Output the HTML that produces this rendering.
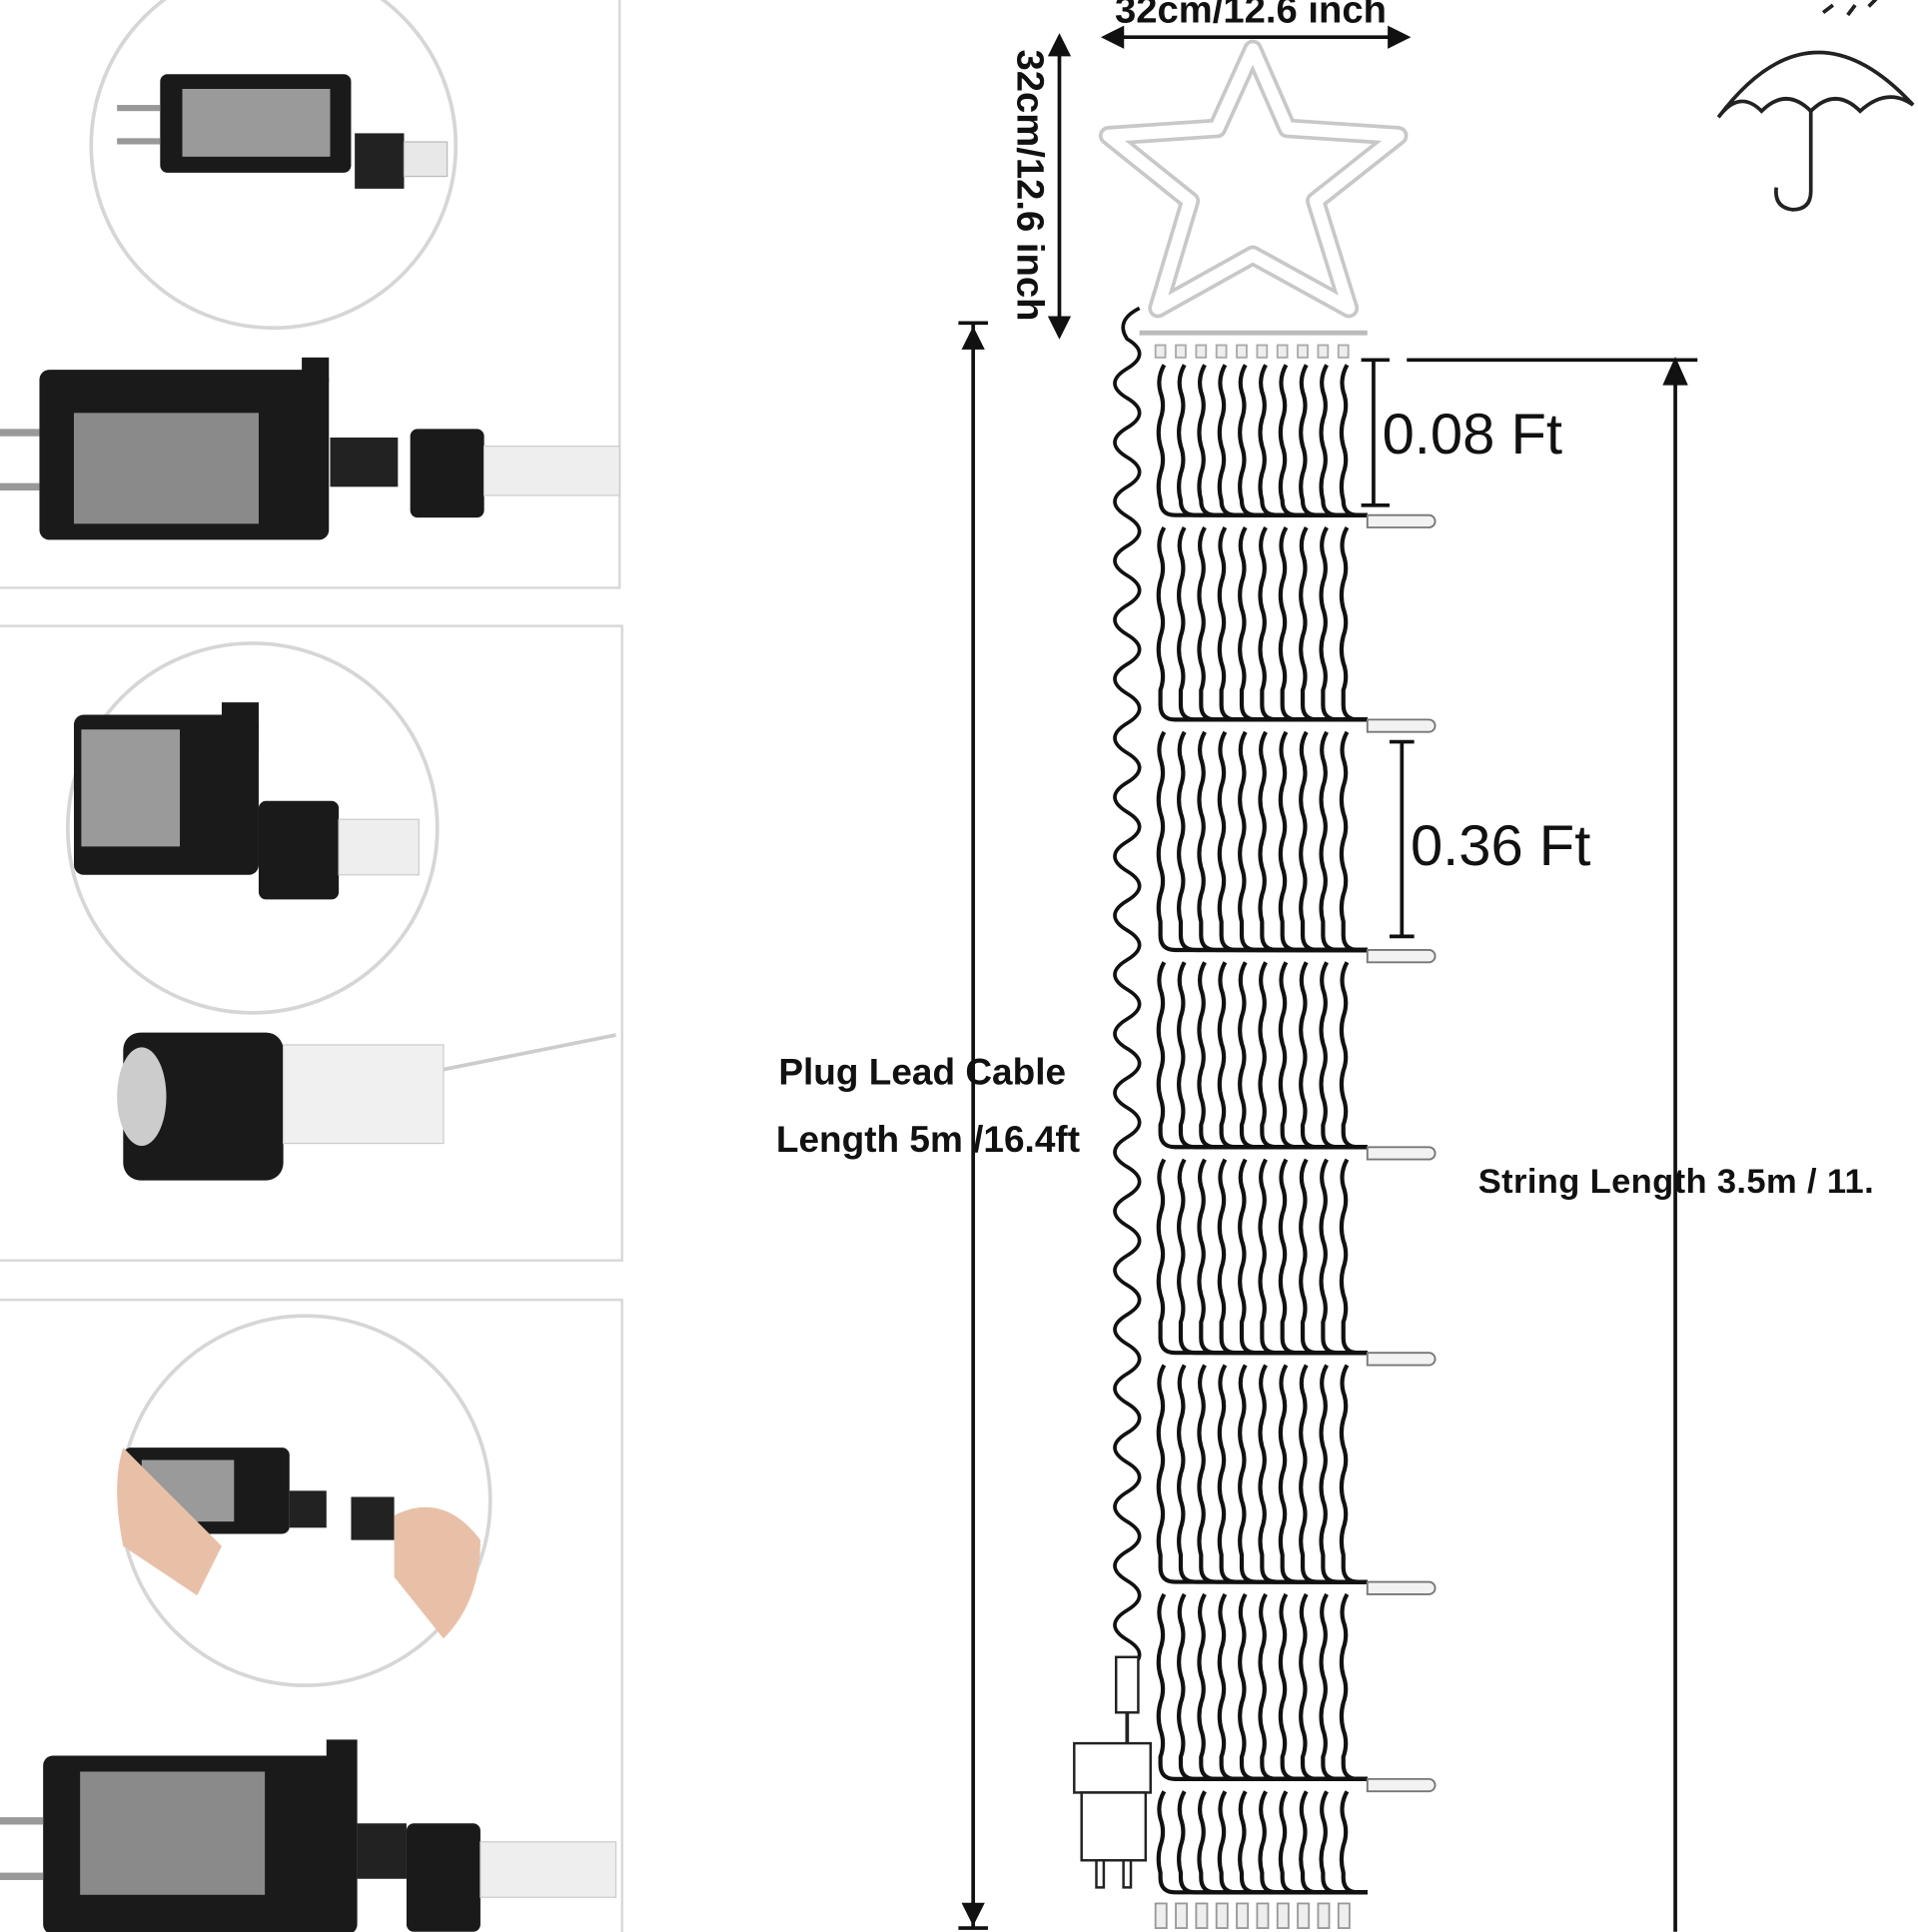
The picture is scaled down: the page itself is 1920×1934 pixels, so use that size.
<!DOCTYPE html>
<html><head><meta charset="utf-8">
<style>
html,body{margin:0;padding:0;background:#fff;width:1920px;height:1934px;overflow:hidden}
svg{display:block}
text{font-family:"Liberation Sans",sans-serif}
</style></head>
<body>
<svg id="s" width="1920" height="1934" viewBox="0 0 1557 1568" xmlns="http://www.w3.org/2000/svg">
<rect width="1557" height="1568" fill="#fff"/>
<g fill="none" stroke="#d8d8d8" stroke-width="2">
<rect x="-2" y="-2" width="505" height="479"/>
<rect x="-2" y="508" width="507" height="515"/>
<rect x="-2" y="1055" width="507" height="520"/>
</g>
<g fill="none" stroke="#d6d6d6" stroke-width="3">
<circle cx="222" cy="118" r="148"/>
<circle cx="205" cy="672" r="150"/>
<circle cx="248" cy="1218" r="150"/>
</g>
<g>
<rect x="130" y="60" width="155" height="80" rx="6" fill="#1a1a1a"/>
<rect x="148" y="72" width="120" height="55" fill="#9a9a9a"/>
<rect x="288" y="108" width="40" height="45" fill="#222"/>
<rect x="328" y="115" width="35" height="28" fill="#e8e8e8" stroke="#bbb"/>
<rect x="95" y="85" width="35" height="5" fill="#999"/><rect x="95" y="112" width="35" height="5" fill="#999"/>

<rect x="32" y="300" width="235" height="138" rx="8" fill="#1a1a1a"/>
<rect x="60" y="335" width="150" height="90" fill="#8a8a8a"/>
<rect x="245" y="290" width="22" height="20" fill="#1a1a1a"/>
<rect x="268" y="355" width="55" height="40" fill="#222"/>
<rect x="333" y="348" width="60" height="72" rx="6" fill="#1a1a1a"/>
<rect x="393" y="362" width="110" height="40" fill="#eee" stroke="#ccc"/>
<rect x="0" y="348" width="32" height="6" fill="#999"/><rect x="0" y="392" width="32" height="6" fill="#999"/>

<rect x="60" y="580" width="150" height="130" rx="8" fill="#1a1a1a"/>
<rect x="66" y="592" width="80" height="95" fill="#9a9a9a"/>
<rect x="180" y="570" width="30" height="40" fill="#1a1a1a"/>
<rect x="210" y="650" width="65" height="80" rx="6" fill="#1a1a1a"/>
<rect x="275" y="665" width="65" height="45" fill="#eee" stroke="#ccc"/>

<rect x="100" y="838" width="130" height="120" rx="14" fill="#1a1a1a"/>
<ellipse cx="115" cy="890" rx="20" ry="40" fill="#ccc"/>
<rect x="230" y="848" width="130" height="80" fill="#f0f0f0" stroke="#ccc"/>
<line x1="360" y1="868" x2="500" y2="840" stroke="#ccc" stroke-width="3"/>

<rect x="100" y="1175" width="135" height="70" rx="6" fill="#1a1a1a"/>
<rect x="115" y="1185" width="75" height="50" fill="#9a9a9a"/>
<rect x="235" y="1210" width="30" height="30" fill="#222"/>
<rect x="285" y="1215" width="35" height="35" fill="#222"/>
<path d="M100 1175 q-10 30 0 80 l60 40 l20 -40 z" fill="#e8c0a8"/>
<path d="M320 1230 q40 -20 70 20 q0 50 -30 80 l-40 -50 z" fill="#e8c0a8"/>

<rect x="35" y="1425" width="255" height="145" rx="8" fill="#1a1a1a"/>
<rect x="65" y="1438" width="150" height="100" fill="#8a8a8a"/>
<rect x="265" y="1412" width="25" height="20" fill="#1a1a1a"/>
<rect x="290" y="1480" width="40" height="45" fill="#222"/>
<rect x="330" y="1480" width="60" height="88" rx="6" fill="#1a1a1a"/>
<rect x="390" y="1495" width="110" height="45" fill="#eee" stroke="#ccc"/>
<rect x="0" y="1475" width="35" height="6" fill="#999"/><rect x="0" y="1520" width="35" height="6" fill="#999"/>
</g>

<path d="M1017 40 L1045 104 L1135 110 L1068 163 L1095 250 L1017 207 L940 250 L966 163 L900 110 L988 104 Z" fill="none" stroke="#c8c8c8" stroke-width="16" stroke-linejoin="round"/>
<path d="M1017 40 L1045 104 L1135 110 L1068 163 L1095 250 L1017 207 L940 250 L966 163 L900 110 L988 104 Z" fill="none" stroke="#fff" stroke-width="10" stroke-linejoin="round"/>
<line x1="925" y1="270" x2="1110" y2="270" stroke="#bbb" stroke-width="4"/>

<g fill="none" stroke="#222" stroke-width="3">
<path d="M1395 95 Q1470 -5 1553 85 Q1532 70 1510 90 Q1490 70 1470 90 Q1450 70 1430 90 Q1412 72 1395 95"/>
<path d="M1470 90 L1470 155 Q1470 170 1455 170 Q1440 168 1442 152"/>
<path d="M1480 10 l8 -6 M1500 12 l6 -8 M1517 5 l6 -6"/>
</g>

<g stroke="#111" stroke-width="3" fill="#111">
<line x1="905" y1="30" x2="1135" y2="30"/>
<path d="M897 30 l14 -7 v14z M1142 30 l-14 -7 v14z"/>
<line x1="860" y1="38" x2="860" y2="265"/>
<path d="M860 30 l-7 14 h14z M860 272 l-7 -14 h14z"/>
<line x1="790" y1="262" x2="790" y2="1565"/>
<line x1="778" y1="262" x2="802" y2="262"/><line x1="778" y1="1565" x2="802" y2="1565"/>
<path d="M790 268 l-7 14 h14z M790 1560 l-7 -14 h14z"/>
<line x1="1142" y1="292" x2="1378" y2="292"/>
<line x1="1360" y1="300" x2="1360" y2="1568"/>
<path d="M1360 293 l-8 18 h16z"/>
<line x1="1115" y1="292" x2="1115" y2="410"/>
<line x1="1105" y1="292" x2="1128" y2="292"/><line x1="1105" y1="410" x2="1128" y2="410"/>
<line x1="1138" y1="602" x2="1138" y2="760"/>
<line x1="1128" y1="602" x2="1148" y2="602"/><line x1="1128" y1="760" x2="1148" y2="760"/>
</g>

<g id="strands" fill="none" stroke="#111" stroke-width="3.4"></g>
<path id="coil" fill="none" stroke="#111" stroke-width="3"/>

<g fill="#fff" stroke="#222" stroke-width="2">
<rect x="906" y="1345" width="18" height="45"/>
<rect x="872" y="1415" width="62" height="40"/>
<rect x="878" y="1455" width="52" height="55"/>
<rect x="890" y="1510" width="6" height="22"/><rect x="912" y="1510" width="6" height="22"/>
</g>
<line x1="915" y1="1390" x2="915" y2="1415" stroke="#222" stroke-width="3"/>

<text x="905" y="18" font-size="31" font-weight="bold" fill="#111">32cm/12.6 inch</text>
<text transform="translate(826,40) rotate(90)" font-size="31" font-weight="bold" fill="#111">32cm/12.6 inch</text>
<text x="1122" y="368" font-size="47" fill="#111">0.08 Ft</text>
<text x="1145" y="702" font-size="47" fill="#111">0.36 Ft</text>
<text x="632" y="880" font-size="30" font-weight="bold" fill="#111">Plug Lead Cable</text>
<text x="630" y="935" font-size="30" font-weight="bold" fill="#111">Length 5m /16.4ft</text>
<text x="1200" y="968" font-size="28" font-weight="bold" letter-spacing="0.3" fill="#111">String Length 3.5m / 11.</text>
</svg>
<script>
(function(){
var ns="http://www.w3.org/2000/svg",g=document.getElementById("strands");
var rows=[290,422,588,775,935,1102,1288,1448,1540];
for(var i=0;i<10;i++){
 var x0=942+i*16.5;
 for(var r=0;r<rows.length-1;r++){
  var y0=rows[r]+6,y1=rows[r+1]-4,d="M"+(x0+3)+" "+y0,k=0;
  for(var y=y0;y<y1-30;y+=22){d+=" Q"+(x0+(k++%2?4:-3))+" "+(y+11)+" "+x0+" "+(y+22);}
  d+=" L"+x0+" "+(y1-12)+" Q"+x0+" "+y1+" "+(x0+12)+" "+y1+" L1110 "+y1;
  var p=document.createElementNS(ns,"path");p.setAttribute("d",d);g.appendChild(p);
 }
 var b=document.createElementNS(ns,"rect");
 b.setAttribute("x",x0-4);b.setAttribute("y",1545);b.setAttribute("width",9);b.setAttribute("height",20);
 b.setAttribute("fill","#eee");b.setAttribute("stroke","#999");b.setAttribute("stroke-width","1.5");g.appendChild(b);
 var t=document.createElementNS(ns,"rect");
 t.setAttribute("x",x0-4);t.setAttribute("y",280);t.setAttribute("width",8);t.setAttribute("height",10);
 t.setAttribute("fill","#eee");t.setAttribute("stroke","#aaa");t.setAttribute("stroke-width","1.5");g.appendChild(t);
}
for(var r=1;r<rows.length-1;r++){
 var y=rows[r]+1,bl=document.createElementNS(ns,"path");
 bl.setAttribute("d","M1110 "+(y-5)+" h50 a5 5 0 0 1 0 10 h-50z");
 bl.setAttribute("fill","#f2f2f2");bl.setAttribute("stroke","#777");bl.setAttribute("stroke-width","1.5");g.appendChild(bl);
}
var d="M925 250 Q905 260 915 275",y=275;
while(y<1340){d+=" Q"+(y%48<24?895:935)+" "+(y+12)+" 915 "+(y+24);y+=24;}
document.getElementById("coil").setAttribute("d",d);
})();
</script>
</body></html>
